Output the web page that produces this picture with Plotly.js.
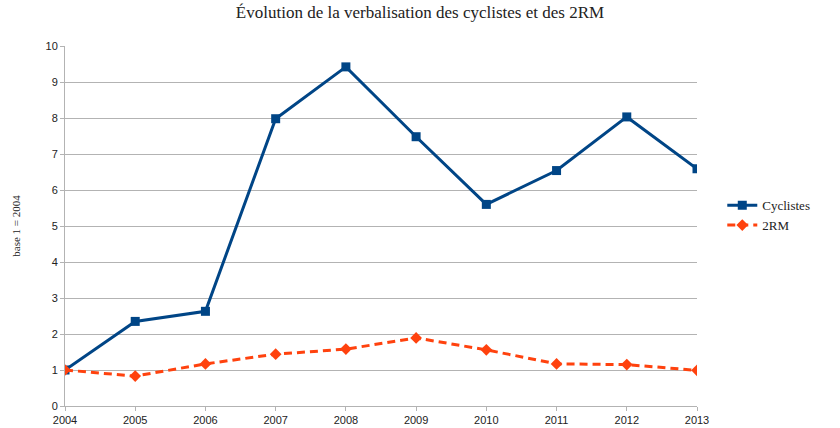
<!DOCTYPE html>
<html><head><meta charset="utf-8">
<script src="https://cdn.plot.ly/plotly-3.0.1.min.js"></script>
<style>html,body{margin:0;padding:0;background:#fff}</style>
</head><body><div id="chart" style="width:840px;height:428px"></div>
<script>
const years = [2004, 2005, 2006, 2007, 2008, 2009, 2010, 2011, 2012, 2013];
const cyclistes = [1, 2.35, 2.63, 7.98, 9.42, 7.48, 5.6, 6.54, 8.03, 6.59];
const deuxRM = [1, 0.83, 1.17, 1.44, 1.58, 1.89, 1.56, 1.17, 1.15, 0.99];

const traces = [
  {x: years, y: cyclistes, name: 'Cyclistes', type: 'scatter', mode: 'lines+markers',
   line: {color: '#004586', width: 3}, marker: {symbol: 'square', size: 9, color: '#004586'}},
  {x: years, y: deuxRM, name: '2RM', type: 'scatter', mode: 'lines+markers',
   line: {color: '#ff420e', width: 3, dash: '8px,5px'}, marker: {symbol: 'diamond', size: 9, color: '#ff420e'}}
];
const layout = {
  width: 840, height: 428,
  margin: {l: 65, r: 143, t: 46, b: 22},
  paper_bgcolor: '#fff', plot_bgcolor: '#fff',
  title: {text: 'Évolution de la verbalisation des cyclistes et des 2RM', x: 0.5, xanchor: 'center', y: 0.985, yanchor: 'top',
          font: {family: 'Liberation Serif', size: 17, color: '#222'}},
  xaxis: {range: [2004, 2013], tickmode: 'array', tickvals: years, ticktext: years.map(String),
          showgrid: false, zeroline: false, showline: true, linecolor: '#b3b3b3', linewidth: 1,
          ticks: 'outside', ticklen: 4, tickcolor: '#b3b3b3',
          tickfont: {family: 'Liberation Sans', size: 11, color: '#222'}},
  yaxis: {range: [0, 10], dtick: 1, showgrid: true, gridcolor: '#b3b3b3', gridwidth: 1,
          zeroline: false, showline: true, linecolor: '#b3b3b3', ticks: 'outside', ticklen: 4, tickcolor: '#b3b3b3',
          tickfont: {family: 'Liberation Sans', size: 11, color: '#222'},
          title: {text: 'base 1 = 2004', standoff: 22, font: {family: 'Liberation Serif', size: 11, color: '#222'}}},
  legend: {x: 1.04, y: 0.53, xanchor: 'left', yanchor: 'middle', font: {family: 'Liberation Serif', size: 13, color: '#222'},
           tracegroupgap: 0, itemwidth: 30},
  showlegend: true
};
Plotly.newPlot('chart', traces, layout, {displayModeBar: false});
</script></body></html>
